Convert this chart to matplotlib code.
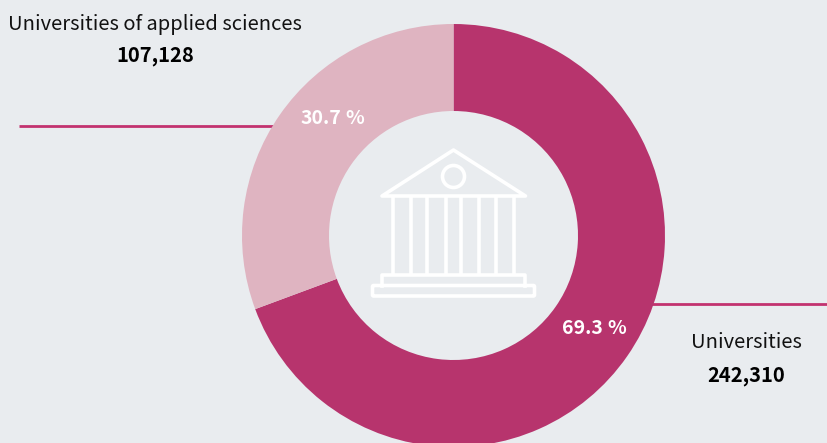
import matplotlib
matplotlib.use("Agg")
import matplotlib.pyplot as plt
from matplotlib.patches import Circle, Polygon, FancyBboxPatch

plt.rcParams["font.family"] = ["Noto Sans CJK SC", "DejaVu Sans"]

categories = ["Universities", "Universities of applied sciences"]
values = [242310, 107128]
colors = ["#b7346d", "#dfb4c1"]

W, H = 828, 443
BG = "#e9ecef"
LINE = "#c2326f"


def yy(y):
    # pixel y from the top -> axes y
    return H - y


def pct_label(x, y, value):
    # number and % sign apart, the reference has a gap between them
    ax.text(x, yy(y), f"{value:.1f}", color="white", fontsize=14, fontweight="bold",
            ha="right", va="center", zorder=5)
    ax.text(x + 4, yy(y), "%", color="white", fontsize=14, fontweight="bold",
            ha="left", va="center", zorder=5)


fig = plt.figure(figsize=(8.28, 4.43), dpi=100, facecolor=BG)
ax = fig.add_axes([0, 0, 1, 1])
ax.set_facecolor(BG)

# leader lines go under the ring
ax.plot([19, 300], [yy(126), yy(126)], color=LINE, lw=2.0, solid_capstyle="butt", zorder=1)
ax.plot([620, 828], [yy(303.5), yy(303.5)], color=LINE, lw=2.0, solid_capstyle="butt", zorder=1)

total = sum(values)
wedges, _ = ax.pie(
    values,
    colors=colors,
    startangle=90,
    counterclock=False,
    center=(453.5, yy(235.5)),
    radius=211.5,
    wedgeprops={"width": 87, "linewidth": 0, "zorder": 2},
)
ax.set_xlim(0, W)
ax.set_ylim(0, H)
ax.set_aspect("equal")
ax.axis("off")

# percentages
pct_label(603, 328, values[0] / total * 100)
pct_label(341, 118, values[1] / total * 100)

# labels
ax.text(155, yy(24), categories[1], color="#111111", fontsize=14.5, ha="center", va="center")
ax.text(155, yy(55), f"{values[1]:,}", color="black", fontsize=14.5, fontweight="bold",
        ha="center", va="center")
ax.text(746, yy(343), categories[0], color="#111111", fontsize=14.5, ha="center", va="center")
ax.text(746, yy(376), f"{values[0]:,}", color="black", fontsize=14.5, fontweight="bold",
        ha="center", va="center")

# building icon
icon = dict(edgecolor="white", facecolor="none", linewidth=2.6, joinstyle="round", zorder=4)
ax.add_patch(Polygon([(453.5, yy(150)), (382, yy(196)), (525.5, yy(196))], closed=True, **icon))
ax.add_patch(Circle((453.5, yy(176.5)), 11, **icon))
for x in [393, 411.3, 427, 445.7, 461.3, 479.3, 495.7, 513.7]:
    ax.plot([x, x], [yy(196), yy(274)], color="white", lw=2.6, solid_capstyle="butt", zorder=4)
ax.plot([382, 382, 525, 525], [yy(286), yy(275), yy(275), yy(286)], color="white", lw=2.6,
        solid_joinstyle="round", zorder=4)
ax.add_patch(FancyBboxPatch((372.5, yy(296)), 162, 10.5, boxstyle="round,pad=0,rounding_size=1", **icon))

fig.savefig("out.png", dpi=100, facecolor=BG)
